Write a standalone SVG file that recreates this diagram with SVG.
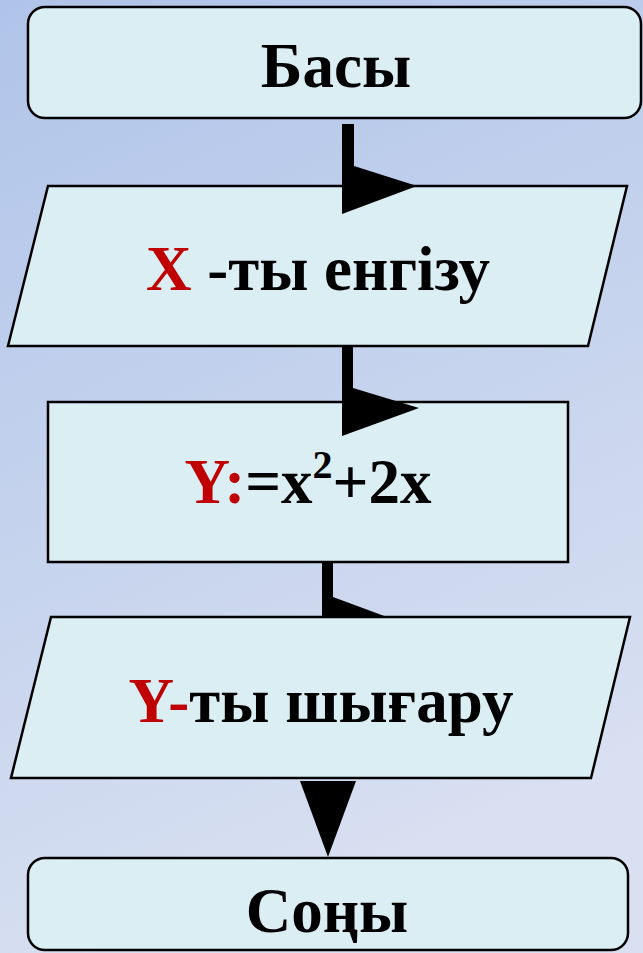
<svg xmlns="http://www.w3.org/2000/svg" width="643" height="953" viewBox="0 0 643 953">
<defs>
<linearGradient id="bg" x1="0" y1="0" x2="0.3" y2="1">
<stop offset="0" stop-color="#b0c4e9"/>
<stop offset="1" stop-color="#d8e0f1"/>
</linearGradient>
<style>
.shape{fill:#daeef3;stroke:#000;stroke-width:2.5}
.t{font-family:"Liberation Serif","Times New Roman",serif;font-weight:bold;font-size:63px;fill:#000;text-anchor:middle}
.r{fill:#c00000}
.arrow{fill:#000}
</style>
</defs>
<rect x="0" y="0" width="643" height="953" fill="url(#bg)"/>
<g id="connectors-back">
<polygon class="arrow" points="322,559 333,559 333,597 387,617 322,617"/>
</g>
<g id="start">
<rect class="shape" x="28" y="7" width="613" height="111" rx="17"/>
<text class="t" x="336" y="87">Басы</text>
</g>
<g id="input">
<polygon class="shape" points="48,186 627,186 588,346 8,346"/>
<text class="t" x="318" y="290"><tspan class="r">X</tspan> -ты енгізу</text>
</g>
<g id="process">
<rect class="shape" x="48" y="402" width="520" height="160"/>
<text class="t" x="308" y="503"><tspan class="r">Y:</tspan>=x<tspan font-size="40" dy="-25">2</tspan><tspan dy="25">+2x</tspan></text>
</g>
<g id="output">
<polygon class="shape" points="51,617 630,617 591,778 11,778"/>
<text class="t" x="321" y="722"><tspan class="r">Y-</tspan>ты шығару</text>
</g>
<g id="end">
<rect class="shape" x="28" y="858" width="600" height="92" rx="17"/>
<text class="t" x="327" y="932">Соңы</text>
</g>
<g id="connectors">
<polygon class="arrow" points="342,124 354,124 354,166 417,186 342,214"/>
<polygon class="arrow" points="342,347 353,347 353,388 419,408 342,436"/>
<polygon class="arrow" points="300,781 356,781 328,857"/>
</g>
</svg>
